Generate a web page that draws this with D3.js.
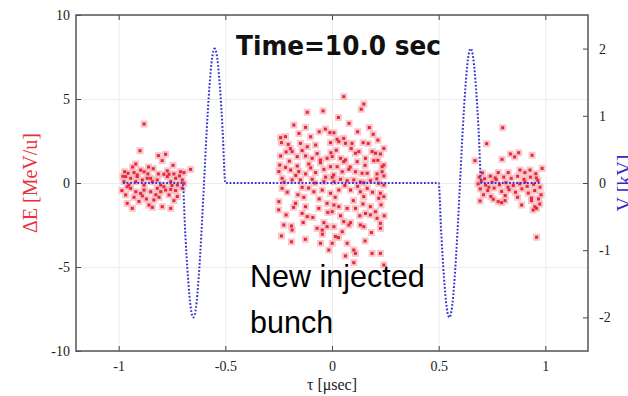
<!DOCTYPE html>
<html>
<head>
<meta charset="utf-8">
<script src="https://cdn.jsdelivr.net/npm/d3@7"></script>
<style>
  body { margin: 0; background: #fff; }
  svg { display: block; }
</style>
</head>
<body>
<svg id="chart"></svg>
<script>
// ---- data ----
var title = "Time=10.0 sec"
var note = ["New injected", "bunch"]
var xLabel = "τ [μsec]"
var yLabel = "ΔE [MeV/u]"
var y2Label = "V [kV]"

var xTicks = [-1, -0.5, 0, 0.5, 1]
var yTicks = [-10, -5, 0, 5, 10]
var y2Ticks = [-2, -1, 0, 1, 2]

// particles [tau, dE] : bunch near -0.85
var leftBunch = [
  [-0.881,3.51],[-0.900,1.92],[-0.814,1.63],[-0.780,1.71],[-0.796,1.33],[-0.920,1.13],[-0.838,0.85],[-0.663,0.81],
  [-0.972,0.67],[-0.956,0.58],[-0.928,0.62],[-0.897,0.77],[-0.881,0.67],[-0.863,0.54],[-0.814,0.54],[-0.788,0.52],
  [-0.764,0.52],[-0.741,0.54],[-0.710,0.67],[-0.694,0.62],[-0.967,0.38],[-0.944,0.28],[-0.913,0.38],[-0.889,0.18],
  [-0.850,0.28],[-0.819,0.18],[-0.772,0.38],[-0.733,0.28],[-0.702,0.18],[-0.975,0.08],[-0.952,-0.12],[-0.920,0.08],
  [-0.881,-0.12],[-0.842,0.08],[-0.803,-0.12],[-0.756,0.08],[-0.725,-0.12],[-0.694,-0.02],[-0.944,-0.32],[-0.920,-0.52],
  [-0.881,-0.42],[-0.850,-0.52],[-0.819,-0.32],[-0.803,-0.52],[-0.780,-0.42],[-0.756,-0.38],[-0.733,-0.45],[-0.702,-0.30],
  [-0.967,-0.71],[-0.928,-0.85],[-0.889,-0.77],[-0.811,-0.85],[-0.764,-0.71],[-0.725,-0.80],[-0.960,-1.21],[-0.936,-1.51],
  [-0.858,-1.31],[-0.842,-1.45],[-0.796,-1.41],[-0.756,-1.51],[-0.960,-0.22],[-0.897,-0.62],[-0.835,-1.01],[-0.788,-0.22],
  [-0.741,-1.05],[-0.913,0.48],[-0.866,0.28],[-0.772,0.72],[-0.980,0.40],[-0.935,0.95],[-0.905,-1.10],[-0.870,-0.95],
  [-0.826,-0.70],[-0.750,-0.15],[-0.715,0.42],[-0.985,-0.45],[-0.860,0.95],[-0.745,1.05]
]

// central (new injected) bunch
var centerBunch = [
  [-0.116,4.21],[-0.042,4.29],[-0.179,3.45],[-0.124,3.31],[-0.031,3.21],[-0.010,3.00],[-0.241,2.70],[-0.218,2.76],
  [-0.237,2.40],[-0.205,2.30],[-0.148,2.36],[-0.116,2.16],[-0.077,2.26],[-0.187,1.87],[-0.140,1.93],[-0.007,2.40],
  [-0.241,1.61],[-0.163,1.57],[-0.124,1.61],[-0.093,1.47],[-0.054,1.37],[-0.023,1.47],[-0.245,1.07],[-0.218,0.93],
  [-0.163,1.01],[-0.109,1.13],[-0.054,1.21],[-0.007,0.97],[-0.249,0.68],[-0.194,0.77],[-0.156,0.68],[-0.124,0.54],
  [-0.077,0.62],[-0.038,0.81],[0.008,0.48],[-0.234,0.28],[-0.187,0.18],[-0.148,0.18],[-0.093,0.22],[-0.038,0.08],
  [0.001,0.34],[-0.234,-0.32],[-0.140,-0.26],[-0.085,-0.52],[-0.046,-0.42],[-0.007,-0.61],[-0.249,-1.11],[-0.171,-1.21],
  [-0.132,-0.85],[-0.124,-1.41],[-0.062,-1.51],[-0.023,-1.21],[-0.215,-1.90],[-0.140,-1.81],[-0.116,-2.00],[-0.038,-2.36],
  [0.001,-1.71],[-0.226,-2.50],[-0.190,-2.56],[-0.187,-2.80],[-0.070,-2.70],[-0.046,-2.80],[-0.023,-2.60],[-0.237,-3.15],
  [-0.054,-3.59],[-0.015,-3.99],[0.016,-3.19],
  [-0.20,1.30],[-0.17,0.45],[-0.10,0.90],[-0.07,1.75],[-0.03,0.35],[-0.21,-0.55],[-0.16,-0.70],[-0.11,-0.30],
  [-0.06,-0.95],[-0.02,-1.75],[-0.18,-1.45],[-0.09,-2.05],[-0.135,-2.35],[-0.225,0.05],[-0.195,2.05],[-0.10,2.75],
  [-0.06,3.05],[-0.155,2.95],[-0.045,-3.05],[-0.125,-3.35],[-0.19,-3.50],[-0.08,0.00],[-0.005,1.80],[-0.25,-1.60],
  [-0.215,1.85],
  [0.055,5.14],[0.149,4.70],[0.137,4.39],[0.009,2.99],[0.024,2.60],[0.032,2.46],[0.055,2.66],[0.063,2.36],
  [0.094,2.36],[0.146,2.40],[0.193,2.90],[0.243,2.06],[0.188,1.87],[0.204,1.77],[0.227,1.73],[0.110,1.77],
  [0.126,1.87],[0.001,1.57],[0.040,1.47],[0.055,1.27],[0.063,1.37],[0.118,1.27],[0.157,1.47],[0.196,1.33],
  [0.235,0.97],[0.243,1.07],[0.024,0.97],[0.048,0.67],[0.079,0.81],[0.110,0.67],[0.141,0.58],[0.165,0.58],
  [0.211,0.54],[0.235,0.67],[0.243,0.42],[0.009,0.08],[0.040,0.22],[0.071,0.14],[0.102,0.18],[0.133,0.06],
  [0.149,0.02],[0.180,0.14],[0.219,-0.02],[0.243,-0.12],[0.032,-0.42],[0.087,-0.42],[0.133,-0.52],[0.165,-0.32],
  [0.227,-0.61],[0.243,-0.81],[0.149,-0.81],[0.219,-0.91],[0.009,-1.31],[0.032,-1.41],[0.071,-1.51],[0.110,-1.51],
  [0.157,-1.81],[0.180,-1.90],[0.204,-1.71],[0.211,-2.10],[0.227,-2.40],[0.180,-1.41],[0.055,-2.30],[0.087,-2.36],
  [0.009,-2.60],[0.048,-2.90],[0.079,-2.50],[0.133,-2.50],[0.149,-2.60],[0.227,-2.70],[0.001,-3.59],[0.071,-3.59],
  [0.102,-3.99],[0.110,-4.19],[0.188,-4.19],[0.227,-4.19],[0.243,-4.88],[0.063,-4.34],[0.102,-4.74],
  [0.02,1.95],[0.09,2.05],[0.17,2.35],[0.215,2.55],[0.12,3.05],[0.08,3.55],[0.175,3.30],[0.03,3.90],
  [0.06,-0.15],[0.12,-0.20],[0.19,-0.55],[0.015,-0.85],[0.10,-1.05],[0.145,-1.25],[0.23,-1.30],[0.04,-1.95],
  [0.13,-1.95],[0.185,-2.95],[0.03,-3.25],[0.155,-3.45],[0.21,0.25],[0.085,0.95],[0.155,1.05],[0.215,1.35],
  [0.245,-1.95]
]

// bunch near +0.85
var rightBunch = [
  [0.800,3.29],[0.725,2.34],[0.670,1.33],[0.797,1.41],[0.836,1.73],[0.856,1.55],[0.875,1.80],[0.938,1.65],
  [0.985,0.87],[0.779,0.62],[0.826,0.62],[0.881,0.77],[0.904,0.62],[0.928,0.77],[0.705,0.60],[0.955,0.55],
  [0.690,0.35],[0.715,0.25],[0.742,0.40],[0.770,0.20],[0.805,0.35],[0.840,0.28],[0.870,0.40],[0.900,0.22],
  [0.930,0.35],[0.965,0.15],[0.685,-0.05],[0.720,-0.12],[0.750,0.05],[0.785,-0.10],[0.815,0.02],[0.850,-0.15],
  [0.880,-0.05],[0.915,-0.20],[0.945,-0.08],[0.975,-0.25],[0.695,-0.35],[0.730,-0.45],[0.760,-0.30],[0.795,-0.50],
  [0.830,-0.40],[0.860,-0.55],[0.890,-0.35],[0.920,-0.60],[0.950,-0.45],[0.980,-0.70],[0.710,-0.70],[0.745,-0.80],
  [0.812,-0.75],[0.870,-0.85],[0.935,-0.90],[0.968,-0.95],[0.694,-1.07],[0.756,-0.97],[0.779,-1.11],[0.795,-1.17],
  [0.811,-1.05],[0.889,-1.31],[0.935,-1.05],[0.951,-1.41],[0.974,-1.25],[0.943,-1.61],[0.959,-1.51],[0.959,-3.23],
  [0.700,0.10],[0.735,-0.25],[0.765,0.30],[0.825,-0.25],[0.905,0.05],[0.958,0.30]
]

// RF voltage [tau, kV] (flat, one cycle near -0.6, flat, one cycle near +0.6, flat)
var voltTau = [-0.98, -0.7, -0.6875, -0.675, -0.6625, -0.65, -0.6375, -0.625, -0.6125, -0.6,
  -0.5875, -0.575, -0.5625, -0.55, -0.5375, -0.525, -0.5125, -0.5,
  0.5, 0.5125, 0.525, 0.5375, 0.55, 0.5625, 0.575, 0.5875, 0.6,
  0.6125, 0.625, 0.6375, 0.65, 0.6625, 0.675, 0.6875, 0.7, 0.98]
var voltKV = [0, 0, -0.77, -1.41, -1.85, -2, -1.85, -1.41, -0.77, 0,
  0.77, 1.41, 1.85, 2, 1.85, 1.41, 0.77, 0,
  0, -0.77, -1.41, -1.85, -2, -1.85, -1.41, -0.77, 0,
  0.77, 1.41, 1.85, 2, 1.85, 1.41, 0.77, 0, 0]

// ---- chart ----
var width = 628
var height = 396
var margin = ({top: 15, right: 40, bottom: 45, left: 76})

var svg = d3.select("#chart").attr("width", width).attr("height", height)
svg.append("rect").attr("width", width).attr("height", height).attr("fill", "#fff")

var x = d3.scaleLinear().domain([-1.2, 1.2]).range([margin.left, width - margin.right])
var y = d3.scaleLinear().domain([-10, 10]).range([height - margin.bottom, margin.top])
var yV = d3.scaleLinear().domain([-2.5, 2.5]).range([height - margin.bottom, margin.top])

var plotW = width - margin.right - margin.left
var plotH = height - margin.bottom - margin.top
var serif = "'Liberation Serif', 'Times New Roman', serif"
var fmt = d => String(d)

// grid
svg.append("g")
  .attr("transform", `translate(0,${height - margin.bottom})`)
  .call(d3.axisBottom(x).tickValues(xTicks).tickSize(-plotH).tickFormat(""))
  .call(g => g.select(".domain").remove())
  .call(g => g.selectAll("line").attr("stroke", "#ececec"))
svg.append("g")
  .attr("transform", `translate(${margin.left},0)`)
  .call(d3.axisLeft(y).tickValues(yTicks).tickSize(-plotW).tickFormat(""))
  .call(g => g.select(".domain").remove())
  .call(g => g.selectAll("line").attr("stroke", "#ececec"))

// axes with inward ticks
function styleAxis(g) {
  g.select(".domain").remove()
  g.selectAll("line").attr("stroke", "#444")
  g.selectAll("text").attr("font-family", serif).attr("font-size", 14).attr("fill", "#222")
}
svg.append("g")
  .attr("transform", `translate(0,${height - margin.bottom})`)
  .call(d3.axisBottom(x).tickValues(xTicks).tickSize(-5).tickPadding(10).tickFormat(fmt))
  .call(styleAxis)
svg.append("g")
  .attr("transform", `translate(0,${margin.top})`)
  .call(d3.axisTop(x).tickValues(xTicks).tickSize(-5).tickFormat(""))
  .call(styleAxis)
svg.append("g")
  .attr("transform", `translate(${margin.left},0)`)
  .call(d3.axisLeft(y).tickValues(yTicks).tickSize(-5).tickPadding(6).tickFormat(fmt))
  .call(styleAxis)
svg.append("g")
  .attr("transform", `translate(${width - margin.right},0)`)
  .call(d3.axisRight(yV).tickValues(y2Ticks).tickSize(-5).tickPadding(11).tickFormat(fmt))
  .call(styleAxis)

// frame
svg.append("rect")
  .attr("x", margin.left).attr("y", margin.top)
  .attr("width", plotW).attr("height", plotH)
  .attr("fill", "none").attr("stroke", "#555").attr("stroke-width", 1.5)

// particles: pink halo first, red core on top
var particles = leftBunch.concat(centerBunch, rightBunch)
svg.append("g").selectAll("rect")
  .data(particles).join("rect")
  .attr("x", d => x(d[0]) - 3.5).attr("y", d => y(d[1]) - 3.5)
  .attr("width", 7).attr("height", 7)
  .attr("fill", "#f7b9bf").attr("opacity", 0.8)
svg.append("g").selectAll("rect")
  .data(particles).join("rect")
  .attr("x", d => x(d[0]) - 1.5).attr("y", d => y(d[1]) - 1.5)
  .attr("width", 3).attr("height", 3)
  .attr("fill", "#e3293a")

// RF voltage, dotted blue
var volt = voltTau.map((t, i) => [t, voltKV[i]])
var line = d3.line()
  .x(d => x(d[0]))
  .y(d => yV(d[1]))
  .curve(d3.curveMonotoneX)
svg.append("path")
  .datum(volt)
  .attr("fill", "none")
  .attr("stroke", "#3434d0")
  .attr("stroke-width", 2)
  .attr("stroke-dasharray", "1.8,1.8")
  .attr("d", line)

// labels
svg.append("text")
  .attr("x", x(0)).attr("y", 390)
  .attr("text-anchor", "middle")
  .attr("font-family", serif).attr("font-size", 16).attr("fill", "#222")
  .text(xLabel)
svg.append("text")
  .attr("transform", `translate(37,${y(0)}) rotate(-90)`)
  .attr("text-anchor", "middle")
  .attr("font-family", serif).attr("font-size", 20).attr("fill", "#e8333c")
  .text(yLabel)
svg.append("text")
  .attr("transform", `translate(631,${y(0)}) rotate(-90)`)
  .attr("text-anchor", "middle")
  .attr("font-family", serif).attr("font-size", 20).attr("fill", "#2b2bc8")
  .text(y2Label)

svg.append("text")
  .attr("x", 236).attr("y", 55)
  .attr("font-family", "'DejaVu Sans', sans-serif").attr("font-weight", "bold")
  .attr("font-size", 27).attr("fill", "#111")
  .attr("textLength", 205).attr("lengthAdjust", "spacingAndGlyphs")
  .text(title)

svg.append("g").selectAll("text")
  .data(note).join("text")
  .attr("x", 250).attr("y", (d, i) => 287 + i * 46)
  .attr("font-family", "'Liberation Sans', Arial, sans-serif")
  .attr("font-size", 30.5).attr("fill", "#000")
  .text(d => d)
</script>
</body>
</html>
